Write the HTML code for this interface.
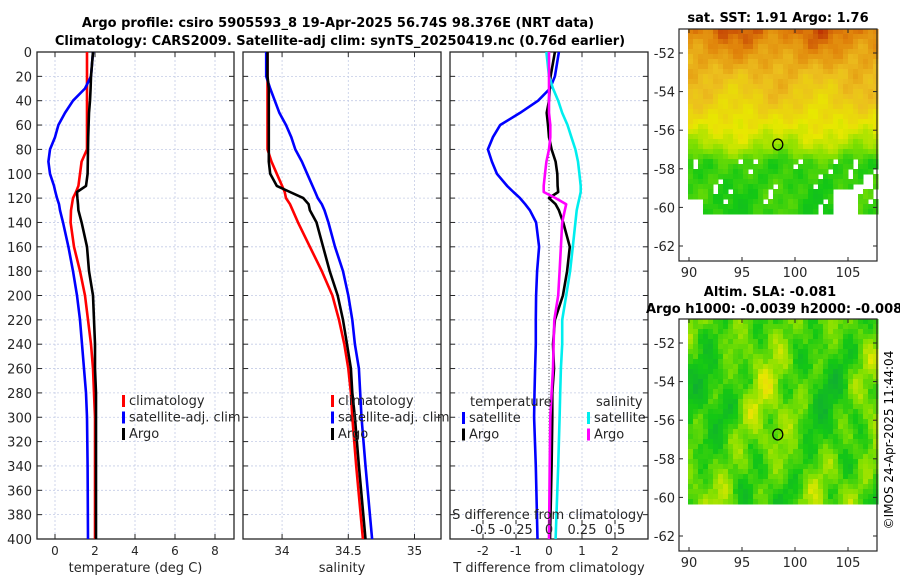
<!DOCTYPE html>
<html><head><meta charset="utf-8"><style>
body{margin:0;background:#fff;width:900px;height:580px;overflow:hidden;font-family:"DejaVu Sans","Liberation Sans",sans-serif}
svg text{font-family:"DejaVu Sans","Liberation Sans",sans-serif}
</style></head><body>
<svg id="fig" width="900" height="580" viewBox="0 0 900 580" xmlns="http://www.w3.org/2000/svg">
<text x="338" y="27" font-size="13" font-weight="bold" text-anchor="middle">Argo profile: csiro 5905593_8 19-Apr-2025 56.74S 98.376E (NRT data)</text>
<text x="340" y="45" font-size="13" font-weight="bold" text-anchor="middle">Climatology: CARS2009. Satellite-adj clim: synTS_20250419.nc (0.76d earlier)</text>
<g id="plots"></g>
<text x="778" y="22" font-size="13" font-weight="bold" text-anchor="middle">sat. SST: 1.91 Argo: 1.76</text>
<text x="770" y="296" font-size="13" font-weight="bold" text-anchor="middle">Altim. SLA: -0.081</text>
<text x="646" y="313" font-size="13" font-weight="bold">Argo h1000: -0.0039 h2000: -0.008</text>
<text transform="translate(893,440) rotate(-90)" font-size="12" text-anchor="middle">©IMOS 24-Apr-2025 11:44:04</text>
</svg>
<script>
const NS="http://www.w3.org/2000/svg";
const depths=[0,20,30,40,50,60,70,80,90,100,110,115,120,125,130,140,160,180,200,220,240,260,280,300,340,400];
const tClim=[1.6,1.6,1.6,1.6,1.6,1.6,1.6,1.6,1.33,1.25,1.17,1.05,0.9,0.85,0.8,0.78,0.95,1.25,1.5,1.65,1.8,1.9,1.95,2.0,2.0,2.0];
const tSat=[1.9,1.8,1.5,0.9,0.5,0.17,0.0,-0.25,-0.33,-0.25,-0.05,0.02,0.1,0.2,0.25,0.4,0.67,0.9,1.1,1.25,1.35,1.45,1.55,1.6,1.63,1.65];
const tArgo=[1.9,1.8,1.78,1.75,1.7,1.68,1.66,1.65,1.64,1.63,1.55,1.1,1.12,1.15,1.17,1.33,1.6,1.7,1.9,1.95,2.0,2.0,2.05,2.05,2.05,2.05];
const sClim=[33.89,33.89,33.89,33.89,33.89,33.89,33.89,33.89,33.92,33.96,34.0,34.02,34.03,34.06,34.08,34.12,34.21,34.3,34.38,34.43,34.47,34.5,34.52,34.53,34.56,34.61];
const sSat=[33.88,33.88,33.91,33.945,33.98,34.03,34.07,34.1,34.15,34.19,34.23,34.25,34.27,34.3,34.32,34.35,34.4,34.46,34.5,34.53,34.55,34.58,34.59,34.6,34.63,34.68];
const sArgo=[33.89,33.89,33.9,33.9,33.9,33.9,33.9,33.9,33.9,33.91,33.96,34.06,34.16,34.2,34.21,34.26,34.31,34.36,34.42,34.46,34.49,34.52,34.53,34.55,34.58,34.63];
const dTSat=[0.3,0.18,0.03,-0.33,-0.88,-1.48,-1.7,-1.85,-1.73,-1.58,-1.27,-1.08,-0.88,-0.72,-0.58,-0.39,-0.3,-0.36,-0.39,-0.4,-0.4,-0.42,-0.44,-0.45,-0.4,-0.35];
const dTArgo=[0.18,0.05,0.02,0.0,-0.07,-0.03,0.0,0.08,0.2,0.25,0.26,0.28,0.0,0.2,0.3,0.43,0.63,0.55,0.42,0.18,0.12,0.15,0.1,0.1,0.08,0.03];
const dSSat=[-0.02,0.0,0.03,0.07,0.1,0.14,0.17,0.2,0.22,0.23,0.24,0.24,0.23,0.22,0.21,0.2,0.18,0.16,0.13,0.1,0.1,0.09,0.085,0.08,0.07,0.05];
const dSArgo=[0.0,0.0,0.0,0.0,0.0,0.01,0.01,0.0,-0.02,-0.03,-0.04,-0.04,0.05,0.13,0.12,0.1,0.09,0.08,0.07,0.04,0.035,0.03,0.02,0.01,0.005,0.0];
const yTicks=[0,20,40,60,80,100,120,140,160,180,200,220,240,260,280,300,320,340,360,380,400];
const tTicks=[0,2,4,6,8];
const sTicks=[34,34.5,35];
const dtTicks=[-2,-1,0,1,2];
const dsTicks=[-0.5,-0.25,0,0.25,0.5];
const dsTickLabels=["-0.5","-0.25","0","0.25","0.5"];
const lonTicks=[90,95,100,105];
const latTicks=[-52,-54,-56,-58,-60,-62];
const argoLon=98.376, argoLat=-56.74;

const Y0=52,Y1=539;
const yS=d=>Y0+(Y1-Y0)*d/400;
const g=document.getElementById('plots');
function el(tag,attrs,parent){const e=document.createElementNS(NS,tag);for(const k in attrs)e.setAttribute(k,attrs[k]);(parent||g).appendChild(e);return e;}
function txt(x,y,s,size,anchor,parent){const t=el('text',{x:x,y:y,'font-size':size,'text-anchor':anchor||'middle',fill:'#262626'},parent);t.textContent=s;return t;}

function panel(name,x0,x1,xmin,xmax,ticks,tickLabels,xlabel,showY){
  const grp=el('g',{});
  
  
  const xS=v=>x0+(x1-x0)*(v-xmin)/(xmax-xmin);
  yTicks.forEach(d=>{el('line',{x1:x0,x2:x1,y1:yS(d),y2:yS(d),stroke:'#c4cce6','stroke-width':0.8,'stroke-dasharray':'2,2'},grp);
    el('line',{x1:x0,x2:x0+5,y1:yS(d),y2:yS(d),stroke:'#262626'},grp);
    el('line',{x1:x1-5,x2:x1,y1:yS(d),y2:yS(d),stroke:'#262626'},grp);
    if(showY){const t=txt(x0-5,yS(d)+5,String(d),13,'end',grp);}});
  ticks.forEach((v,i)=>{el('line',{x1:xS(v),x2:xS(v),y1:Y0,y2:Y1,stroke:'#c4cce6','stroke-width':0.8,'stroke-dasharray':'2,2'},grp);
    el('line',{x1:xS(v),x2:xS(v),y1:Y1,y2:Y1-5,stroke:'#262626'},grp);
    el('line',{x1:xS(v),x2:xS(v),y1:Y0,y2:Y0+5,stroke:'#262626'},grp);
    const t=txt(xS(v),Y1+16,tickLabels[i],12,'middle',grp);});
  el('rect',{x:x0,y:Y0,width:x1-x0,height:Y1-Y0,fill:'none',stroke:'#262626','stroke-width':1.3},grp);
  const xl=txt((x0+x1)/2,Y1+33,xlabel,13,'middle',grp);
  
  return {grp,xS};
}
function line(p,xS,vals,color,name){
  const pts=vals.map((v,i)=>xS(v).toFixed(1)+','+yS(depths[i]).toFixed(1)).join(' ');
  const l=el('polyline',{points:pts,fill:'none',stroke:color,'stroke-width':2.6,'stroke-linejoin':'round'},p.grp);
  
  
}
function legend(p,x,y,items){
  items.forEach((it,i)=>{
    const r=el('rect',{x:x,y:y+i*16.5-10,width:3,height:12,fill:it[1]},p.grp);
    
    const t=txt(x+7,y+i*16.5,it[0],13,'start',p.grp);
    
  });
}
const p1=panel('temperature-panel',37,234,-0.9,8.95,tTicks,tTicks.map(String),'temperature (deg C)',true);
line(p1,p1.xS,tClim,'#ff0000','temp-climatology-line');
line(p1,p1.xS,tSat,'#0000ff','temp-satellite-line');
line(p1,p1.xS,tArgo,'#000000','temp-argo-line');
legend(p1,122,405,[['climatology','#ff0000'],['satellite-adj. clim','#0000ff'],['Argo','#000000']]);
const p2=panel('salinity-panel',243,441,33.705,35.2,sTicks,['34','34.5','35'],'salinity',false);
line(p2,p2.xS,sClim,'#ff0000','sal-climatology-line');
line(p2,p2.xS,sSat,'#0000ff','sal-satellite-line');
line(p2,p2.xS,sArgo,'#000000','sal-argo-line');
legend(p2,331,405,[['climatology','#ff0000'],['satellite-adj. clim','#0000ff'],['Argo','#000000']]);
const p3=panel('difference-panel',450,648,-3,3,dtTicks,dtTicks.map(String),'T difference from climatology',false);
const xSs=v=>549+132*v;
el('line',{x1:549,x2:549,y1:Y0,y2:Y1,stroke:'#555','stroke-width':1,'stroke-dasharray':'1,2'},p3.grp);
line(p3,p3.xS,dTSat,'#0000ff','tdiff-satellite-line');
line(p3,p3.xS,dTArgo,'#000000','tdiff-argo-line');
line(p3,xSs,dSSat,'#00eeee','sdiff-satellite-line');
line(p3,xSs,dSArgo,'#ff00ff','sdiff-argo-line');
{const t=txt(470,406,'temperature',13,'start',p3.grp);}
{const t=txt(596,406,'salinity',13,'start',p3.grp);}
legend(p3,462,422,[['satellite','#0000ff'],['Argo','#000000']]);
legend(p3,587,422,[['satellite','#00eeee'],['Argo','#ff00ff']]);
{const t=txt(548,519,'S difference from climatology',13,'middle',p3.grp);}
dsTicks.forEach((v,i)=>{el('line',{x1:xSs(v),x2:xSs(v),y1:520,y2:524,stroke:'#262626'},p3.grp);
  const t=txt(xSs(v),534,dsTickLabels[i],13,'middle',p3.grp);});

function n(x,y,s){return Math.sin(x*0.9+s)*Math.cos(y*0.7+s*2)+0.6*Math.sin(x*2.3+y*1.7+s)+0.4*Math.cos(x*3.7-y*2.9+s*3);}
function lerp(a,b,t){return a.map((v,i)=>Math.round(v+(b[i]-v)*t));}
const cmap=[[16,176,48],[20,200,20],[130,224,0],[232,232,0],[236,190,30],[224,130,10],[176,20,0]];
function cm(v){v=Math.max(0,Math.min(0.999,v))*(cmap.length-1);const i=Math.floor(v);const c=lerp(cmap[i],cmap[i+1],v-i);return 'rgb('+c.join(',')+')';}
const sstProfile=[[0,0.86],[3,0.78],[7,0.68],[12,0.6],[16,0.5],[19,0.4],[22,0.22],[30,0.2]];
function sstBase(cy){for(let i=0;i<sstProfile.length-1;i++){const a=sstProfile[i],b=sstProfile[i+1];if(cy<=b[0])return a[1]+(b[1]-a[1])*(cy-a[0])/(b[0]-a[0]);}return 0.2;}
function map(name,top,kind){
  const grp=el('g',{});
  
  
  const x0=679,x1=877,y0=top,y1=top+232;
  const lonS=v=>689+(v-90)*10.6;
  const latS=v=>(top+24)+(-52-v)*19.3;
  const cw=5,ch=5,dy0=top,dy1=top+181;
  for(let yy=dy0;yy<dy1;yy+=ch){for(let xx=688;xx<877;xx+=cw){
    const cx=(xx-688)/6,cy=(yy-dy0)/6;let v;
    if(kind==='sst'){
      v=sstBase(cy)+0.05*n(cx*0.5,cy*0.5,1.3);
      if(cy>21 && (n(cx*0.8,cy*0.9,4.1)>1.2 || (cx>20 && n(cx*0.7,cy*0.8,2.2)>0.6))) continue;
      if(cy>28 && cx<2) continue;
      if(cy>26 && cx>24 && cx<28) continue;
    } else {
      v=0.26+0.13*n(cx*0.35,cy*0.2,0.7)+0.04*n(cx,cy,2.5);
    }
    el('rect',{x:xx,y:yy,width:cw+0.5,height:ch+0.5,fill:cm(v)},grp);
  }}
  el('rect',{x:x0,y:y0,width:x1-x0,height:y1-y0,fill:'none',stroke:'#262626','stroke-width':1.2},grp);
  lonTicks.forEach(v=>{el('line',{x1:lonS(v),x2:lonS(v),y1:y1,y2:y1-4,stroke:'#262626'},grp);el('line',{x1:lonS(v),x2:lonS(v),y1:y0,y2:y0+4,stroke:'#262626'},grp);
    const t=txt(lonS(v),y1+16,String(v),13,'middle',grp);});
  latTicks.forEach(v=>{el('line',{x1:x0,x2:x0+4,y1:latS(v),y2:latS(v),stroke:'#262626'},grp);el('line',{x1:x1,x2:x1-4,y1:latS(v),y2:latS(v),stroke:'#262626'},grp);
    const t=txt(x0-4,latS(v)+5,String(v),13,'end',grp);});
  const c=el('ellipse',{cx:lonS(argoLon),cy:latS(argoLat),rx:5,ry:5.5,fill:'none',stroke:'#000','stroke-width':1.3},grp);
  
  
}
map('sst-map',29,'sst');
map('sla-map',319,'sla');
</script>
</body></html>
